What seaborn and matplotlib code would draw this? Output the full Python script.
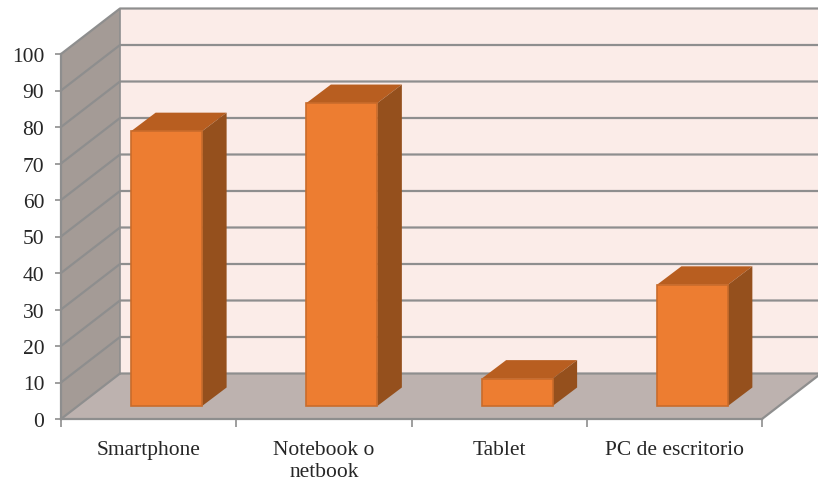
import matplotlib
matplotlib.use("Agg")
import matplotlib.pyplot as plt
from matplotlib.patches import Polygon
import pandas as pd
import seaborn as sns

categorias = ["Smartphone", "Notebook o\nnetbook", "Tablet", "PC de escritorio"]
valores = [75.3, 83, 7.5, 33.2]
marcas_y = [0, 10, 20, 30, 40, 50, 60, 70, 80, 90, 100]

sns.set_theme(style="white")
plt.rcParams["font.family"] = ["Liberation Serif", "DejaVu Serif"]

W, H = 818, 485
fig = plt.figure(figsize=(W / 100, H / 100), dpi=100)
# el eje es la cara frontal del grafico (en pixeles: x 61-762, y 55-420)
ax = fig.add_axes([61 / W, (H - 420) / H, 701 / W, 365 / H])

df = pd.DataFrame({"categoria": categorias, "valor": valores})
sns.barplot(data=df, x="categoria", y="valor", color="#ED7D31", width=0.405,
            saturation=1, edgecolor="#C96C2B", linewidth=1.2, zorder=5, ax=ax)

ax.set_xlim(-0.5, 3.5)
ax.set_ylim(0, 100)

# profundidad del "3D" en unidades de datos
prof_x = 59 / 175.25
prof_y = 45.5 / 3.65

# paredes y piso
def cara(puntos, color, z):
    ax.add_patch(Polygon(puntos, closed=True, facecolor=color, edgecolor="none",
                         zorder=z, clip_on=False))

x0, x1 = -0.5, 3.5
cara([(x0 + prof_x, prof_y), (x1 + prof_x, prof_y), (x1 + prof_x, 100 + prof_y), (x0 + prof_x, 100 + prof_y)], "#FBECE8", 1)
cara([(x0, 0), (x0 + prof_x, prof_y), (x0 + prof_x, 100 + prof_y), (x0, 100)], "#A49B96", 1)
cara([(x0, 0), (x1, 0), (x1 + prof_x, prof_y), (x0 + prof_x, prof_y)], "#BDB2AF", 1)

gris = "#8E8E8E"
for m in marcas_y:
    ax.plot([x0, x0 + prof_x, x1 + prof_x], [m, m + prof_y, m + prof_y], color=gris,
            lw=1.6, zorder=2, clip_on=False)
ax.plot([x0 + prof_x, x0 + prof_x], [prof_y, 100 + prof_y], color=gris, lw=1.2, zorder=2, clip_on=False)
ax.plot([x1, x1 + prof_x], [0, prof_y], color=gris, lw=1.6, zorder=2, clip_on=False)

# las barras se apoyan dentro del piso: se mueven y se les agregan las caras
base = 13 / 3.65
mov_x = 18 / 175.25
bar_x = 24.5 / 175.25
bar_y = 18.5 / 3.65
for barra in list(ax.patches):
    if not hasattr(barra, "get_width"):
        continue
    barra.set_x(barra.get_x() + mov_x)
    barra.set_y(base)
    barra.set_clip_on(False)
    izq = barra.get_x()
    der = izq + barra.get_width()
    alto = base + barra.get_height()
    cara([(izq, alto), (der, alto), (der + bar_x, alto + bar_y), (izq + bar_x, alto + bar_y)], "#B85E20", 4)
    cara([(der, base), (der + bar_x, base + bar_y), (der + bar_x, alto + bar_y), (der, alto)], "#95501D", 4)

# ejes
sns.despine(ax=ax, top=True, right=True)
for lado in ["left", "bottom"]:
    ax.spines[lado].set_color(gris)
    ax.spines[lado].set_linewidth(1.6)
    ax.spines[lado].set_zorder(3)

ax.set_xlabel("")
ax.set_ylabel("")
ax.set_yticks(marcas_y)
ax.tick_params(axis="y", labelsize=15.5, left=True, length=4, width=1.2, color=gris,
               pad=8, labelcolor="#262626")
ax.set_xticks(range(len(categorias)))
ax.set_xticklabels(categorias)
ax.tick_params(axis="x", which="major", labelsize=15.5, bottom=False, pad=9, labelcolor="#262626")
ax.set_xticks([-0.5, 0.5, 1.5, 2.5, 3.5], minor=True)
ax.tick_params(axis="x", which="minor", bottom=True, length=6, width=1.2, color=gris)

fig.savefig("out.png", dpi=100, facecolor="white")
